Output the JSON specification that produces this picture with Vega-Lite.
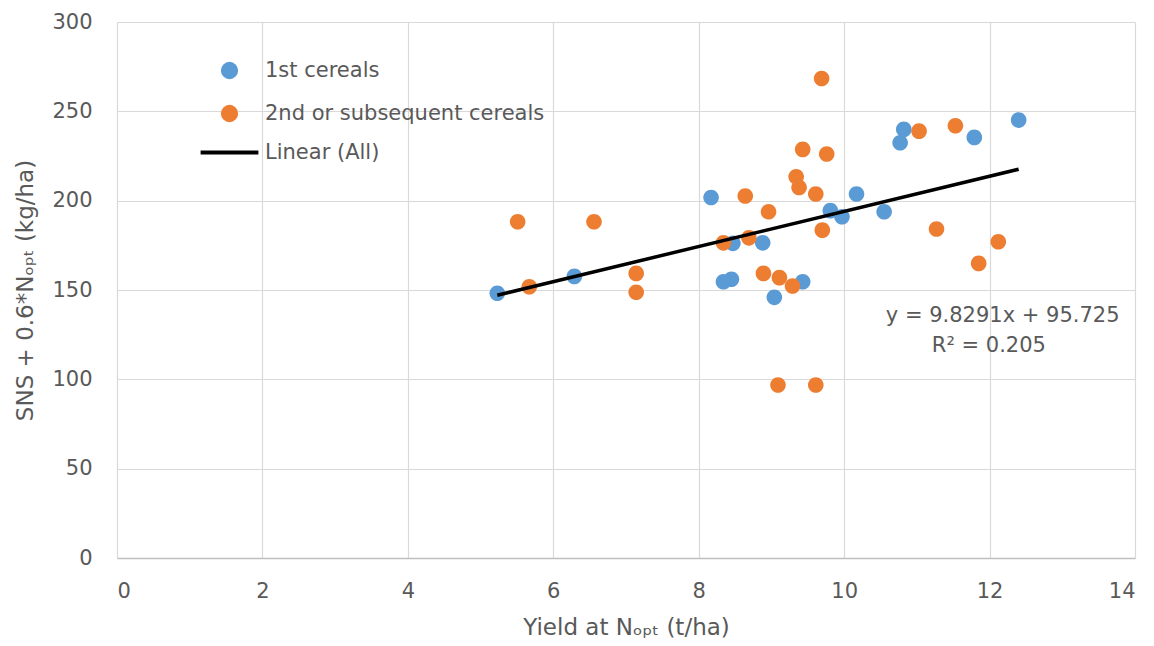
{
  "$schema": "https://vega.github.io/schema/vega-lite/v6.json",
  "width": 1018,
  "height": 536,
  "autosize": {"type": "none"},
  "padding": {"left": 117, "top": 22, "right": 19, "bottom": 88},
  "background": "white",
  "config": {
    "font": "DejaVu Sans",
    "view": {"stroke": null},
    "legend": {"symbolStrokeWidth": 4},
    "axis": {
      "labelFont": "DejaVu Sans", "titleFont": "DejaVu Sans",
      "labelFontSize": 21, "titleFontSize": 23, "labelColor": "#595959", "titleColor": "#595959",
      "titleFontWeight": "normal", "gridColor": "#d9d9d9", "gridWidth": 1.2, "ticks": false
    }
  },
  "datasets": {
    "points": [
      {"yield": 5.23, "sns": 148.2, "series": "1st cereals"},
      {"yield": 6.29, "sns": 157.6, "series": "1st cereals"},
      {"yield": 8.17, "sns": 201.8, "series": "1st cereals"},
      {"yield": 8.47, "sns": 176.1, "series": "1st cereals"},
      {"yield": 8.88, "sns": 176.4, "series": "1st cereals"},
      {"yield": 8.34, "sns": 154.6, "series": "1st cereals"},
      {"yield": 8.45, "sns": 156.0, "series": "1st cereals"},
      {"yield": 9.43, "sns": 154.6, "series": "1st cereals"},
      {"yield": 9.04, "sns": 145.9, "series": "1st cereals"},
      {"yield": 9.81, "sns": 194.4, "series": "1st cereals"},
      {"yield": 9.97, "sns": 191.0, "series": "1st cereals"},
      {"yield": 10.17, "sns": 203.7, "series": "1st cereals"},
      {"yield": 10.55, "sns": 193.8, "series": "1st cereals"},
      {"yield": 10.82, "sns": 239.9, "series": "1st cereals"},
      {"yield": 10.77, "sns": 232.4, "series": "1st cereals"},
      {"yield": 11.79, "sns": 235.4, "series": "1st cereals"},
      {"yield": 12.40, "sns": 245.1, "series": "1st cereals"},
      {"yield": 5.51, "sns": 188.2, "series": "2nd or subsequent cereals"},
      {"yield": 5.67, "sns": 151.8, "series": "2nd or subsequent cereals"},
      {"yield": 6.56, "sns": 188.2, "series": "2nd or subsequent cereals"},
      {"yield": 7.14, "sns": 159.3, "series": "2nd or subsequent cereals"},
      {"yield": 7.14, "sns": 148.7, "series": "2nd or subsequent cereals"},
      {"yield": 8.34, "sns": 176.4, "series": "2nd or subsequent cereals"},
      {"yield": 8.64, "sns": 202.6, "series": "2nd or subsequent cereals"},
      {"yield": 8.69, "sns": 179.2, "series": "2nd or subsequent cereals"},
      {"yield": 8.96, "sns": 193.8, "series": "2nd or subsequent cereals"},
      {"yield": 8.89, "sns": 159.3, "series": "2nd or subsequent cereals"},
      {"yield": 9.11, "sns": 156.9, "series": "2nd or subsequent cereals"},
      {"yield": 9.29, "sns": 152.2, "series": "2nd or subsequent cereals"},
      {"yield": 9.09, "sns": 96.8, "series": "2nd or subsequent cereals"},
      {"yield": 9.61, "sns": 96.8, "series": "2nd or subsequent cereals"},
      {"yield": 9.34, "sns": 213.4, "series": "2nd or subsequent cereals"},
      {"yield": 9.38, "sns": 207.4, "series": "2nd or subsequent cereals"},
      {"yield": 9.43, "sns": 228.7, "series": "2nd or subsequent cereals"},
      {"yield": 9.76, "sns": 226.1, "series": "2nd or subsequent cereals"},
      {"yield": 9.69, "sns": 268.4, "series": "2nd or subsequent cereals"},
      {"yield": 9.61, "sns": 203.7, "series": "2nd or subsequent cereals"},
      {"yield": 9.70, "sns": 183.5, "series": "2nd or subsequent cereals"},
      {"yield": 11.03, "sns": 238.9, "series": "2nd or subsequent cereals"},
      {"yield": 11.53, "sns": 241.9, "series": "2nd or subsequent cereals"},
      {"yield": 11.27, "sns": 184.1, "series": "2nd or subsequent cereals"},
      {"yield": 11.85, "sns": 164.9, "series": "2nd or subsequent cereals"},
      {"yield": 12.12, "sns": 177.0, "series": "2nd or subsequent cereals"}
    ],
    "trend": [
      {"yield": 5.23, "sns": 147.1, "series": "Linear (All)"},
      {"yield": 12.40, "sns": 217.6, "series": "Linear (All)"}
    ],
    "labels": [
      {"yield": 12.18, "sns": 135.4, "text": "y = 9.8291x + 95.725"},
      {"yield": 11.99, "sns": 118.6, "text": "R² = 0.205"}
    ]
  },
  "encoding": {
    "x": {"field": "yield", "type": "quantitative",
      "scale": {"domain": [0, 14], "nice": false, "zero": false},
      "axis": {"title": "Yield at Nₒₚₜ (t/ha)", "values": [0, 2, 4, 6, 8, 10, 12, 14], "labelPadding": 22, "titlePadding": 15, "domainColor": "#bfbfbf", "domainWidth": 1.5, "grid": true}},
    "y": {"field": "sns", "type": "quantitative",
      "scale": {"domain": [0, 300], "nice": false},
      "axis": {"title": "SNS + 0.6*Nₒₚₜ (kg/ha)", "values": [0, 50, 100, 150, 200, 250, 300], "labelPadding": 25, "titlePadding": 14, "domain": false, "grid": true}}
  },
  "layer": [
    {
      "data": {"name": "points"},
      "mark": {"type": "point", "filled": true, "opacity": 1, "size": 400},
      "encoding": {
        "color": {"field": "series", "type": "nominal",
          "scale": {"domain": ["1st cereals", "2nd or subsequent cereals", "Linear (All)"], "range": ["#5b9bd5", "#ed7d31", "#000000"]},
          "legend": {"title": null, "orient": "none", "legendX": 102, "legendY": 38, "labelFontSize": 21, "labelColor": "#595959", "labelFont": "DejaVu Sans", "labelLimit": 0, "symbolSize": 289, "rowPadding": 12, "labelOffset": 25, "symbolStrokeWidth": 4,
            "encode": {"symbols": {"update": {"stroke": {"scale": "color", "field": "value"}, "strokeWidth": {"value": 4}, "opacity": {"value": 1}}}}}},
        "shape": {"field": "series", "type": "nominal",
          "scale": {"domain": ["1st cereals", "2nd or subsequent cereals", "Linear (All)"], "range": ["M-0.78,0A0.78,0.78 0 1,1 0.78,0A0.78,0.78 0 1,1 -0.78,0Z", "M-0.78,0A0.78,0.78 0 1,1 0.78,0A0.78,0.78 0 1,1 -0.78,0Z", "M-3.4,0H3.4"]},
          "legend": {"title": null, "orient": "none", "legendX": 102, "legendY": 38, "labelFontSize": 21, "labelColor": "#595959", "labelFont": "DejaVu Sans", "labelLimit": 0, "symbolSize": 289, "rowPadding": 12, "labelOffset": 25, "symbolStrokeWidth": 4}}
      }
    },
    {
      "data": {"name": "trend"},
      "mark": {"type": "line", "strokeWidth": 3.5, "color": "#000000"},
      "encoding": {
        "color": {"field": "series", "type": "nominal"}
      }
    },
    {
      "data": {"name": "labels"},
      "mark": {"type": "text", "fontSize": 21, "color": "#595959", "font": "DejaVu Sans", "align": "center", "baseline": "middle"},
      "encoding": {"text": {"field": "text"}}
    }
  ]
}
